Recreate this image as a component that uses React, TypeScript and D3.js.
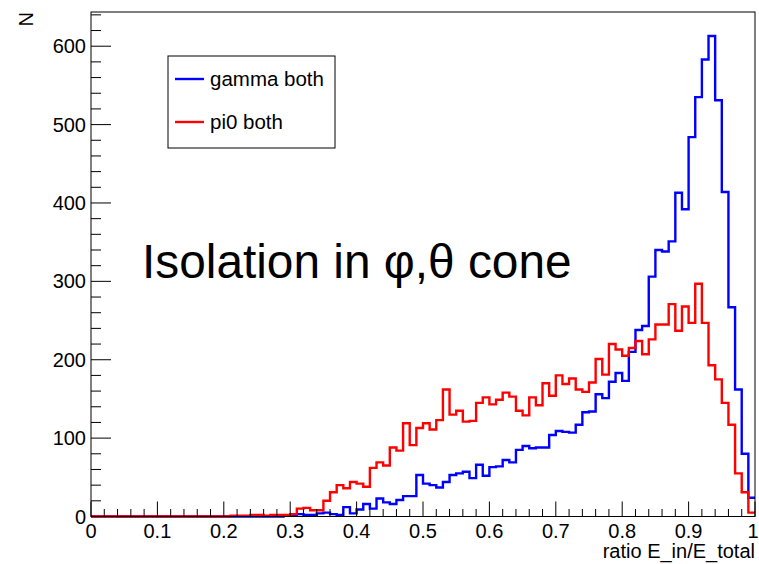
import * as d3 from 'd3';
import { useEffect, useRef } from 'react';

// 100 bins from 0 to 1
const gammaBoth = [
  0, 0, 0, 0, 0, 0, 0, 0, 0, 0,
  0, 0, 0, 0, 0, 0, 0, 0, 0, 0,
  0, 0, 0, 0, 0, 0, 0, 0, 0, 1,
  1, 3, 2, 2, 4, 5, 3, 2, 12, 4,
  9, 16, 10, 23, 18, 16, 21, 26, 26, 53,
  42, 40, 37, 44, 53, 55, 57, 49, 66, 52,
  63, 64, 72, 69, 85, 90, 87, 88, 88, 104,
  109, 108, 107, 117, 133, 134, 156, 151, 172, 183,
  173, 210, 238, 243, 306, 340, 338, 351, 413, 392,
  484, 535, 583, 613, 531, 414, 267, 162, 80, 24,
];

const pi0Both = [
  0, 0, 0, 0, 0, 0, 0, 0, 0, 0,
  0, 0, 0, 0, 0, 0, 0, 0, 0, 0,
  0, 1, 1, 1, 2, 2, 1, 2, 2, 2,
  3, 10, 11, 8, 8, 20, 31, 40, 36, 44,
  42, 38, 62, 69, 65, 88, 84, 119, 91, 113,
  119, 111, 123, 162, 130, 135, 121, 122, 145, 152,
  143, 149, 158, 153, 135, 129, 152, 142, 170, 154,
  180, 169, 176, 162, 159, 171, 201, 181, 220, 213,
  205, 215, 224, 207, 226, 245, 245, 271, 237, 268,
  247, 297, 247, 193, 175, 145, 117, 55, 31, 5,
];

const xTicks = [0, 0.1, 0.2, 0.3, 0.4, 0.5, 0.6, 0.7, 0.8, 0.9, 1];
const xTickLabels = ['0', '0.1', '0.2', '0.3', '0.4', '0.5', '0.6', '0.7', '0.8', '0.9', '1'];
const yTicks = [0, 100, 200, 300, 400, 500, 600];

const legendItems = [
  { name: 'gamma both', color: '#0000ff' },
  { name: 'pi0 both', color: '#ff0000' },
];

export default function App() {
  const svgRef = useRef<SVGSVGElement | null>(null);

  useEffect(() => {
    if (!svgRef.current) return;
    document.body.style.margin = '0';

    const width = 759;
    const height = 564;
    const left = 91, right = 755, top = 12, bottom = 516.5;
    const font = 'Liberation Sans, Arial, Helvetica, sans-serif';

    const yMax = d3.max(gammaBoth)! * 1.05;
    const x = d3.scaleLinear().domain([0, 1]).range([left, right]);
    const y = d3.scaleLinear().domain([0, yMax]).range([bottom, top]);

    const svg = d3.select(svgRef.current);
    svg.selectAll('*').remove();
    svg.attr('width', width).attr('height', height);

    svg.append('rect').attr('width', width).attr('height', height).attr('fill', '#fff');

    // histogramas como escalones
    const nb = gammaBoth.length;
    const step = (vals: number[]) => {
      const pts: [number, number][] = vals.map((v, i) => [i / nb, v]);
      pts.push([1, vals[nb - 1]]);
      return d3.line<[number, number]>()
        .x(d => x(d[0]))
        .y(d => y(d[1]))
        .curve(d3.curveStepAfter)(pts);
    };

    [gammaBoth, pi0Both].forEach((vals, k) => {
      svg.append('path')
        .attr('d', step(vals))
        .attr('fill', 'none')
        .attr('stroke', legendItems[k].color)
        .attr('stroke-width', 2.4);
    });

    // marco
    svg.append('rect')
      .attr('x', left).attr('y', top)
      .attr('width', right - left).attr('height', bottom - top)
      .attr('fill', 'none').attr('stroke', '#000').attr('stroke-width', 1);

    // ticks eje x
    const gx = svg.append('g').attr('stroke', '#000').attr('stroke-width', 1);
    d3.range(0, 51).forEach(i => {
      const v = i / 50;
      const major = i % 5 === 0;
      gx.append('line')
        .attr('x1', x(v)).attr('x2', x(v))
        .attr('y1', bottom).attr('y2', bottom - (major ? 15 : 7.5));
    });
    svg.append('g')
      .selectAll('text')
      .data(xTicks)
      .join('text')
      .attr('x', d => Math.min(x(d), 753))
      .attr('y', 538)
      .attr('text-anchor', 'middle')
      .attr('font-family', font)
      .attr('font-size', 20)
      .text((d, i) => xTickLabels[i]);

    // ticks eje y
    const gy = svg.append('g').attr('stroke', '#000').attr('stroke-width', 1);
    d3.range(0, yMax, 20).forEach(v => {
      const major = v % 100 === 0;
      gy.append('line')
        .attr('x1', left).attr('x2', left + (major ? 20 : 10))
        .attr('y1', y(v)).attr('y2', y(v));
    });
    svg.append('g')
      .selectAll('text')
      .data(yTicks)
      .join('text')
      .attr('x', 86)
      .attr('y', d => y(d) + 7)
      .attr('text-anchor', 'end')
      .attr('font-family', font)
      .attr('font-size', 20)
      .text(d => String(d));

    // titulos
    svg.append('text')
      .attr('x', right).attr('y', 558)
      .attr('text-anchor', 'end')
      .attr('font-family', font).attr('font-size', 20)
      .text('ratio E_in/E_total');
    svg.append('text')
      .attr('transform', `translate(33, ${top}) rotate(-90)`)
      .attr('text-anchor', 'end')
      .attr('font-family', font).attr('font-size', 20)
      .text('N');

    // leyenda
    svg.append('rect')
      .attr('x', 168).attr('y', 56).attr('width', 167).attr('height', 92)
      .attr('fill', '#fff').attr('stroke', '#000').attr('stroke-width', 1);
    legendItems.forEach((it, i) => {
      const ly = 79 + i * 43;
      svg.append('line')
        .attr('x1', 175).attr('x2', 204).attr('y1', ly).attr('y2', ly)
        .attr('stroke', it.color).attr('stroke-width', 2.4);
      svg.append('text')
        .attr('x', 210).attr('y', ly + 7)
        .attr('font-family', font).attr('font-size', 20.5)
        .text(it.name);
    });

    svg.append('text')
      .attr('x', 142).attr('y', 278)
      .attr('font-family', font).attr('font-size', 47.8)
      .text('Isolation in φ,θ cone');
  }, []);

  return <svg ref={svgRef} style={{ display: 'block' }} />;
}
